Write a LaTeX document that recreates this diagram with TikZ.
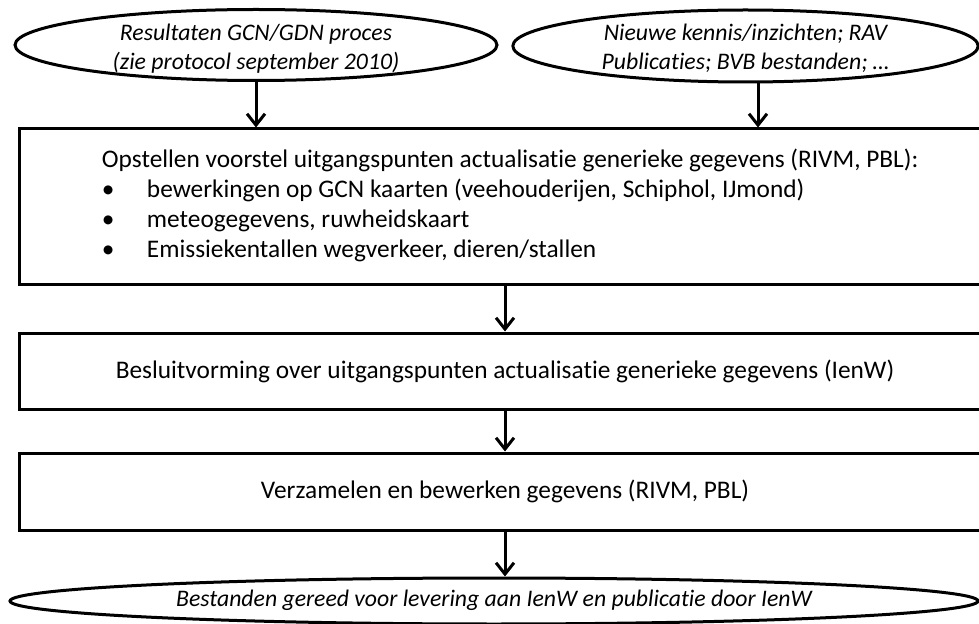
\documentclass[tikz,border=0pt]{standalone}
\usepackage{fontspec}
\setmainfont{Carlito}[Ligatures=NoCommon]
\usetikzlibrary{shapes.geometric,arrows.meta}
\tikzset{
  flowline/.style={line width=2.25pt},
  arr/.style={flowline,-{Straight Barb[length=8.5pt,width=13.5pt,line width=2.25pt]}},
  procbox/.style={draw,flowline,rectangle,minimum width=729pt,inner sep=0pt},
  termnode/.style={draw,flowline,ellipse,inner sep=0pt},
  termtext/.style={inner sep=0pt,align=center,
    font=\fontsize{17.8}{21.75}\selectfont\itshape},
  boxtext/.style={font=\fontsize{19}{22.5}\selectfont,inner sep=0pt}
}
\begin{document}
\begin{tikzpicture}[x=0.75pt,y=-0.75pt]
\clip (0,0) rectangle (979,624);
\fill[white] (0,0) rectangle (979,624);

% sources
\node[termnode,minimum width=361.5pt,minimum height=53.25pt] (e1) at (256,45) {};
\node[termtext] (e1txt) at (256,48.5)
  {Resultaten GCN/GDN proces\\(zie protocol september 2010)};
\node[termnode,minimum width=349pt,minimum height=54pt] (e2) at (745.5,46) {};
\node[termtext] (e2txt) at (745.5,48.5)
  {Nieuwe kennis/inzichten; RAV\\Publicaties; BVB bestanden; …};

% process steps
\node[procbox,minimum height=117pt] (b1) at (505,207) {};
\node[boxtext,anchor=west,align=left] (b1txt) at (101.7,205.5)
  {Opstellen voorstel uitgangspunten actualisatie generieke gegevens (RIVM, PBL):\\
   \makebox[33.75pt][l]{•}bewerkingen op GCN kaarten (veehouderijen, Schiphol, IJmond)\\
   \makebox[33.75pt][l]{•}meteogegevens, ruwheidskaart\\
   \makebox[33.75pt][l]{•}Emissiekentallen wegverkeer, dieren/stallen};
\node[procbox,minimum height=57pt,boxtext] (b2) at (505,371)
  {Besluitvorming over uitgangspunten actualisatie generieke gegevens (IenW)};
\node[procbox,minimum height=57.75pt,boxtext] (b3) at (505,491.5)
  {Verzamelen en bewerken gegevens (RIVM, PBL)};

% result
\node[termnode,minimum width=726pt,minimum height=34.5pt] (e3) at (494,601) {};
\node[termtext] (e3txt) at (494,600)
  {Bestanden gereed voor levering aan IenW en publicatie door IenW};

% connectors
\coordinate (r2) at (758,0);
\draw[arr] (e1.south) -- (e1.south |- b1.north);
\draw[arr] (e2.south -| r2) -- (b1.north -| r2);
\draw[arr] (b1.south) -- (b2.north);
\draw[arr] (b2.south) -- (b3.north);
\draw[arr] (b3.south) -- (b3.south |- e3.north);
\end{tikzpicture}
\end{document}
